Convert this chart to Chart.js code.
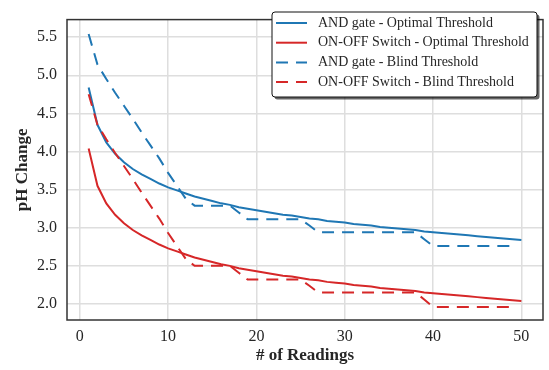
<!DOCTYPE html>
<html>
<head>
<meta charset="utf-8">
<script src="https://cdn.jsdelivr.net/npm/chart.js@4.4.1/dist/chart.umd.min.js"></script>
<style>
  body { margin: 0; background: #fff; }
  #wrap { width: 549px; height: 370px; }
</style>
</head>
<body>
<div id="wrap"><canvas id="phChart" width="549" height="370"></canvas></div>
<script>
// readings on the x axis
let readings = [1, 2, 3, 4, 5, 6, 7, 8, 9, 10,
    11, 12, 13, 14, 15, 16, 17, 18, 19, 20,
    21, 22, 23, 24, 25, 26, 27, 28, 29, 30,
    31, 32, 33, 34, 35, 36, 37, 38, 39, 40,
    41, 42, 43, 44, 45, 46, 47, 48, 49, 50];

let andOptimal = [4.84, 4.35, 4.12, 3.97, 3.86, 3.77, 3.70, 3.64, 3.58, 3.53,
    3.49, 3.45, 3.41, 3.38, 3.35, 3.32, 3.30, 3.27, 3.25, 3.23,
    3.21, 3.19, 3.17, 3.16, 3.14, 3.12, 3.11, 3.09, 3.08, 3.07,
    3.05, 3.04, 3.03, 3.01, 3.00, 2.99, 2.98, 2.97, 2.95, 2.94,
    2.93, 2.92, 2.91, 2.90, 2.89, 2.88, 2.87, 2.86, 2.85, 2.84];

let switchOptimal = [4.04, 3.55, 3.32, 3.17, 3.06, 2.97, 2.90, 2.84, 2.78, 2.73,
    2.69, 2.65, 2.61, 2.58, 2.55, 2.52, 2.50, 2.47, 2.45, 2.43,
    2.41, 2.39, 2.37, 2.36, 2.34, 2.32, 2.31, 2.29, 2.28, 2.27,
    2.25, 2.24, 2.23, 2.21, 2.20, 2.19, 2.18, 2.17, 2.15, 2.14,
    2.13, 2.12, 2.11, 2.10, 2.09, 2.08, 2.07, 2.06, 2.05, 2.04];

// blind threshold runs stop at reading 49
let andBlind = [5.54, 5.14, 4.95, 4.77, 4.60, 4.43, 4.25, 4.08, 3.91, 3.72,
    3.55, 3.38, 3.29, 3.29, 3.29, 3.29, 3.29, 3.20, 3.11, 3.11,
    3.11, 3.11, 3.11, 3.11, 3.11, 3.03, 2.94, 2.94, 2.94, 2.94,
    2.94, 2.94, 2.94, 2.94, 2.94, 2.94, 2.94, 2.94, 2.85, 2.76,
    2.76, 2.76, 2.76, 2.76, 2.76, 2.76, 2.76, 2.76, 2.76];

let switchBlind = [4.75, 4.35, 4.16, 3.98, 3.81, 3.64, 3.46, 3.29, 3.12, 2.93,
    2.76, 2.59, 2.50, 2.50, 2.50, 2.50, 2.50, 2.41, 2.32, 2.32,
    2.32, 2.32, 2.32, 2.32, 2.32, 2.24, 2.15, 2.15, 2.15, 2.15,
    2.15, 2.15, 2.15, 2.15, 2.15, 2.15, 2.15, 2.15, 2.06, 1.96,
    1.96, 1.96, 1.96, 1.96, 1.96, 1.96, 1.96, 1.96, 1.96];

let xTicks = [0, 10, 20, 30, 40, 50];
let yTicks = [2.0, 2.5, 3.0, 3.5, 4.0, 4.5, 5.0, 5.5];

const BLUE = '#1f77b4';
const RED = '#d62728';
const SERIF = '"Liberation Serif", "Times New Roman", serif';
const TEXT = '#262626';

function toPoints(values) {
    return values.map((v, i) => ({ x: readings[i], y: v }));
}

function makeLine(label, values, color, dashed, order) {
    return {
        label: label,
        data: toPoints(values),
        borderColor: color,
        backgroundColor: color,
        borderWidth: 2,
        borderDash: dashed ? [12, 8] : [],
        pointRadius: 0,
        tension: 0,
        fill: false,
        order: order
    };
}

// frame round the plot area
const frame = {
    id: 'frame',
    afterDatasetsDraw(chart) {
        let a = chart.chartArea;
        let ctx = chart.ctx;
        ctx.save();
        ctx.strokeStyle = '#333';
        ctx.lineWidth = 1.5;
        ctx.strokeRect(a.left, a.top, a.right - a.left, a.bottom - a.top);
        ctx.restore();
    }
};

// legend box inside the plot, with a drop shadow
const boxLegend = {
    id: 'boxLegend',
    afterDraw(chart) {
        let ctx = chart.ctx;
        let x = 272, y = 12, w = 265, h = 85;
        ctx.save();
        ctx.fillStyle = 'rgba(0,0,0,0.6)';
        ctx.beginPath();
        ctx.roundRect(x + 2.5, y + 2.5, w, h, 3);
        ctx.fill();
        ctx.fillStyle = '#fff';
        ctx.strokeStyle = '#111';
        ctx.lineWidth = 1;
        ctx.beginPath();
        ctx.roundRect(x, y, w, h, 3);
        ctx.fill();
        ctx.stroke();

        chart.data.datasets.forEach((ds, i) => {
            let ly = y + 11 + i * 19.7;
            ctx.beginPath();
            ctx.setLineDash(ds.borderDash);
            ctx.strokeStyle = ds.borderColor;
            ctx.lineWidth = ds.borderWidth;
            ctx.moveTo(x + 4, ly);
            ctx.lineTo(x + 35, ly);
            ctx.stroke();
            ctx.setLineDash([]);
            ctx.fillStyle = TEXT;
            ctx.font = '14px ' + SERIF;
            ctx.textBaseline = 'middle';
            ctx.fillText(ds.label, x + 46, ly);
        });
        ctx.restore();
    }
};

let ctx = document.getElementById('phChart').getContext('2d');

let chart = new Chart(ctx, {
    type: 'line',
    data: {
        datasets: [
            makeLine('AND gate - Optimal Threshold', andOptimal, BLUE, false, 3),
            makeLine('ON-OFF Switch - Optimal Threshold', switchOptimal, RED, false, 2),
            makeLine('AND gate - Blind Threshold', andBlind, BLUE, true, 1),
            makeLine('ON-OFF Switch - Blind Threshold', switchBlind, RED, true, 0)
        ]
    },
    options: {
        responsive: false,
        animation: false,
        layout: { padding: { left: 1, right: 6, top: 4, bottom: 0 } },
        plugins: {
            legend: { display: false },
            tooltip: { enabled: false }
        },
        scales: {
            x: {
                type: 'linear',
                min: -1.45,
                max: 52.45,
                afterBuildTicks: s => { s.ticks = xTicks.map(v => ({ value: v })); },
                afterFit: s => { s.height = 50; },
                grid: { color: '#dedede', lineWidth: 1.5, drawTicks: false },
                border: { display: false },
                ticks: {
                    padding: 7,
                    color: TEXT,
                    font: { family: SERIF, size: 16 },
                    maxRotation: 0,
                    callback: v => String(v)
                },
                title: {
                    display: true,
                    text: '# of Readings',
                    color: TEXT,
                    font: { family: SERIF, size: 17, weight: 'bold' },
                    padding: { top: 0, bottom: 4 }
                }
            },
            y: {
                type: 'linear',
                min: 1.79,
                max: 5.73,
                afterBuildTicks: s => { s.ticks = yTicks.map(v => ({ value: v })); },
                afterFit: s => { s.width = 66; },
                grid: { color: '#dedede', lineWidth: 1.5, drawTicks: false },
                border: { display: false },
                ticks: {
                    padding: 10,
                    color: TEXT,
                    font: { family: SERIF, size: 16 },
                    callback: v => v.toFixed(1)
                },
                title: {
                    display: true,
                    text: 'pH Change',
                    color: TEXT,
                    font: { family: SERIF, size: 17, weight: 'bold' },
                    padding: { top: 11, bottom: 0 }
                }
            }
        }
    },
    plugins: [frame, boxLegend]
});
</script>
</body>
</html>
